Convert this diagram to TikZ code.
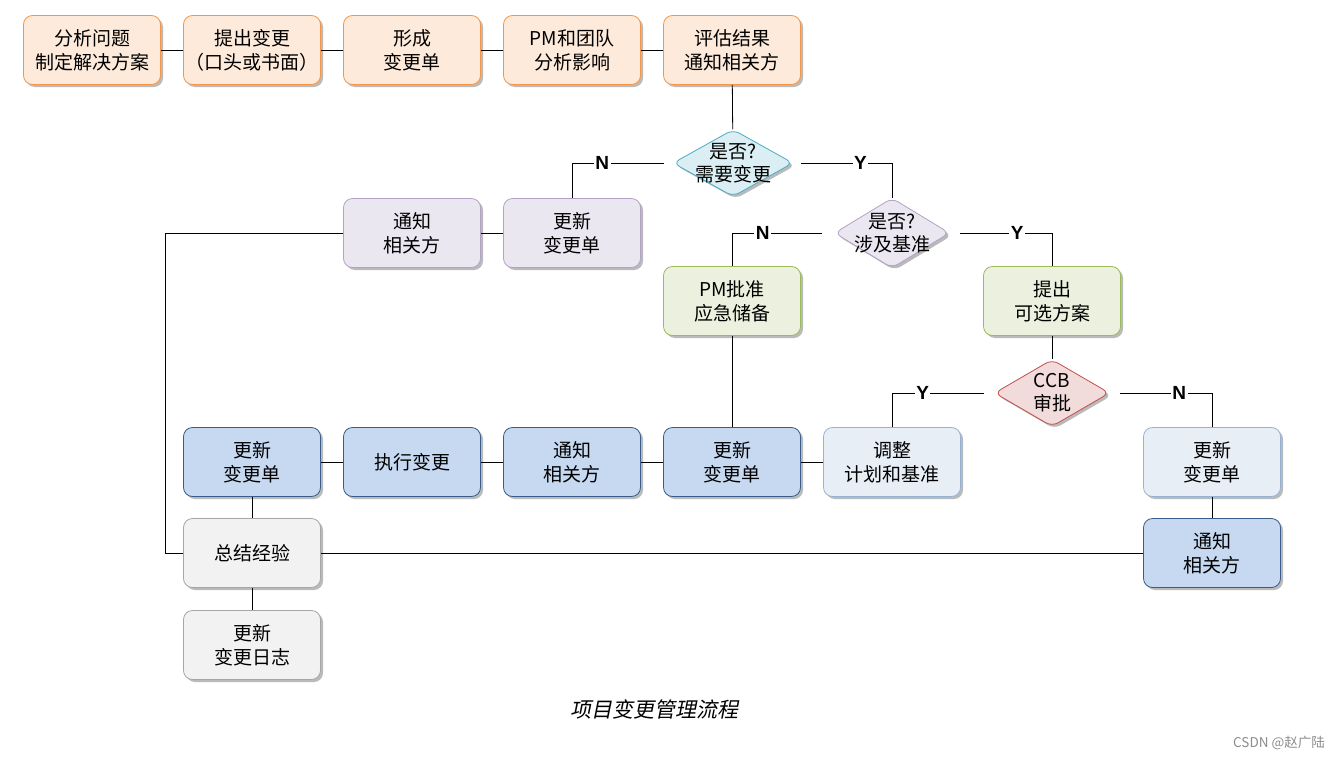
\documentclass[tikz,border=0pt]{standalone}
\usepackage{fontspec}
\newfontfamily\cjk{Noto Sans CJK SC}
\newfontfamily\cjkit[FakeSlant=0.2]{Noto Sans CJK SC}
\newfontfamily\labfont{Liberation Sans}
\usetikzlibrary{shapes.geometric,shadows}
\definecolor{orF}{HTML}{FDEADA}\definecolor{orD}{HTML}{F79646}
\definecolor{puF}{HTML}{EBE7F1}\definecolor{puD}{HTML}{B3A2C7}
\definecolor{cyF}{HTML}{DAEEF3}\definecolor{cyD}{HTML}{4BACC6}
\definecolor{grF}{HTML}{EBF1DE}\definecolor{grD}{HTML}{9BBB59}
\definecolor{reF}{HTML}{F2DCDB}\definecolor{reD}{HTML}{C0504D}
\definecolor{blF}{HTML}{C6D9F1}\definecolor{blD}{HTML}{385D8A}
\definecolor{lbF}{HTML}{E8EEF6}\definecolor{lbD}{HTML}{95B3D7}
\definecolor{gyF}{HTML}{F2F2F2}\definecolor{gyD}{HTML}{A6A6A6}
\tikzset{
  shd/.style={drop shadow={shadow xshift=2.5pt,shadow yshift=-2.5pt,fill=black!45,opacity=.6}},
  box/.style={shd,rectangle,rounded corners=9pt,minimum width=137pt,minimum height=69pt,
     inner sep=0pt,align=center,font=\cjk\fontsize{19}{24}\selectfont,line width=0.8pt},
  orbox/.style={box,fill=orF,draw=orD},
  pubox/.style={box,fill=puF,draw=puD},
  grbox/.style={box,fill=grF,draw=grD},
  blbox/.style={box,fill=blF,draw=blD},
  lbbox/.style={box,fill=lbF,draw=lbD},
  gybox/.style={box,fill=gyF,draw=gyD},
  dia/.style={shd,diamond,inner sep=0pt,rounded corners=7pt,line width=0.8pt},
  dtext/.style={align=center,font=\cjk\fontsize{19}{23}\selectfont,inner sep=0pt},
  lab/.style={fill=white,inner sep=1.5pt,font=\labfont\bfseries\fontsize{19}{19}\selectfont},
  ln/.style={line width=0.8pt,draw=black},
}
\begin{document}
\begin{tikzpicture}[x=1pt,y=-1pt]
\useasboundingbox (0,0) rectangle (1344,760);
% top row
\node[orbox] (b1) at (92,50) {分析问题\\制定解决方案};
\node[orbox] (b2) at (252,50) {提出变更\\（口头或书面）};
\node[orbox] (b3) at (412,50) {形成\\变更单};
\node[orbox] (b4) at (572,50) {PM和团队\\分析影响};
\node[orbox] (b5) at (732,50) {评估结果\\通知相关方};
% diamonds
\node[dia,fill=cyF,draw=cyD,minimum width=120pt,minimum height=67pt] (d1) at (733,163) {};
\node[dtext] (d1t) at (733,163) {是否?\\需要变更};
\node[dia,fill=puF,draw=puD,minimum width=115pt,minimum height=70pt] (d2) at (892,233) {};
\node[dtext] (d2t) at (892,233) {是否?\\涉及基准};
\node[dia,fill=reF,draw=reD,minimum width=115pt,minimum height=67pt] (d3) at (1052,393) {};
\node[dtext] (d3t) at (1052,393) {CCB\\审批};
% second row
\node[pubox] (p1) at (412,233) {通知\\相关方};
\node[pubox] (p2) at (572,233) {更新\\变更单};
\node[grbox] (g1) at (732,301) {PM批准\\应急储备};
\node[grbox] (g2) at (1052,301) {提出\\可选方案};
% third row
\node[blbox] (r1) at (252,462) {更新\\变更单};
\node[blbox] (r2) at (412,462) {执行变更};
\node[blbox] (r3) at (572,462) {通知\\相关方};
\node[blbox] (r4) at (732,462) {更新\\变更单};
\node[lbbox] (r5) at (892,462) {调整\\计划和基准};
\node[lbbox] (r6) at (1212,462) {更新\\变更单};
% fourth row
\node[gybox] (s1) at (252,553) {总结经验};
\node[blbox] (s2) at (1212,553) {通知\\相关方};
\node[gybox] (t1) at (252,645) {更新\\变更日志};
% connectors
\draw[ln] (b1) -- (b2); \draw[ln] (b2) -- (b3); \draw[ln] (b3) -- (b4); \draw[ln] (b4) -- (b5);
\draw[ln] (b5) -- (d1);
\draw[ln,shorten <=9pt] (d1.west) -| node[lab,pos=.35]{N} (p2.north);
\draw[ln,shorten <=8pt] (d1.east) -| node[lab,pos=.34]{Y} (d2.north);
\draw[ln] (p1) -- (p2);
\coordinate (c1) at (165,233);
\draw[ln] (p1.west) -- (c1) |- (s1.west);
\draw[ln,shorten <=12pt] (d2.west) -| node[lab,pos=.35]{N} (g1.north);
\draw[ln,shorten <=10pt] (d2.east) -| node[lab,pos=.33]{Y} (g2.north);
\draw[ln] (g1) -- (r4);
\draw[ln] (g2) -- (d3);
\draw[ln,shorten <=10pt] (d3.west) -| node[lab,pos=.35]{Y} (r5.north);
\draw[ln,shorten <=10pt] (d3.east) -| node[lab,pos=.34]{N} (r6.north);
\draw[ln] (r1) -- (r2); \draw[ln] (r2) -- (r3); \draw[ln] (r3) -- (r4); \draw[ln] (r4) -- (r5);
\draw[ln] (r1) -- (s1); \draw[ln] (s1) -- (t1);
\draw[ln] (r6) -- (s2);
\draw[ln] (s1) -- (s2);
% caption
\node[font=\cjkit\fontsize{21}{21}\selectfont,inner sep=0pt] (cap) at (654,709) {项目变更管理流程};
\node[font=\cjk\fontsize{13.5}{13.5}\selectfont,text=black!45,inner sep=0pt] (wm) at (1279,743) {CSDN @赵广陆};
\end{tikzpicture}
\end{document}
